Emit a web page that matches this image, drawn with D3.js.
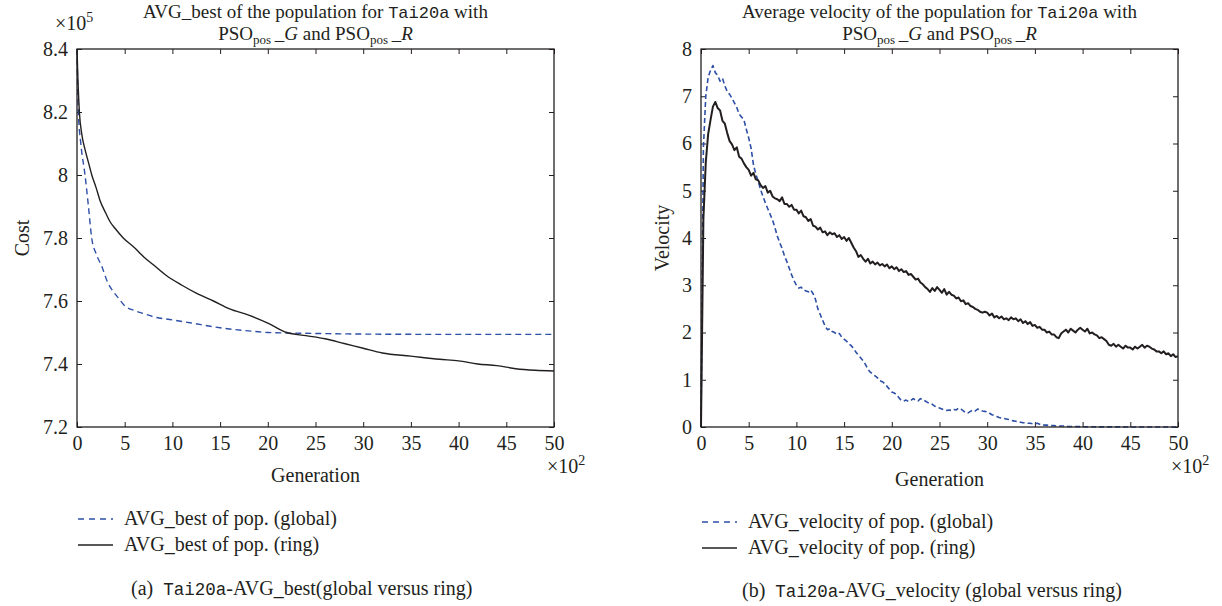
<!DOCTYPE html>
<html>
<head>
<meta charset="utf-8">
<script src="https://cdn.jsdelivr.net/npm/d3@7"></script>
<style>
  body { margin: 0; background: #fff; }
  svg text { font-family: "Liberation Serif", "Times New Roman", serif; fill: #231f20; }
  .mono { font-family: "Liberation Mono", "DejaVu Sans Mono", monospace; }
</style>
</head>
<body>
<svg id="fig" width="1222" height="606"></svg>
<script>
// ---- Generation ticks (in units of 10^2 generations) ----
const genTicks = [0, 5, 10, 15, 20, 25, 30, 35, 40, 45, 50];

// ---- Panel (a): AVG_best cost (x10^5) ----
const costTicks = [7.2, 7.4, 7.6, 7.8, 8.0, 8.2, 8.4];
const costGlobalGen = [0, 0.14, 0.4, 0.84, 1.2, 1.54, 2, 2.6, 3.2, 3.8, 4.33, 5, 6, 7, 8, 10, 12, 15, 18, 20, 25, 30, 40, 50];
const costGlobal    = [8.40, 8.20, 8.10, 8.00, 7.90, 7.80, 7.75, 7.71, 7.66, 7.63, 7.61, 7.585, 7.57, 7.56, 7.55, 7.54, 7.53, 7.515, 7.505, 7.50, 7.497, 7.495, 7.494, 7.494];
const costRingGen = [0, 0.1, 0.25, 0.5, 0.85, 1.2, 1.55, 2, 2.4, 3, 3.5, 4, 4.85, 6, 7, 8, 9.4, 11, 12.5, 14.3, 16, 18, 20, 22, 24, 26, 28, 30, 32, 35, 38, 40, 42, 44, 46, 48, 50];
const costRing    = [8.40, 8.30, 8.20, 8.13, 8.08, 8.04, 8.00, 7.96, 7.92, 7.88, 7.85, 7.83, 7.80, 7.77, 7.74, 7.715, 7.68, 7.65, 7.625, 7.60, 7.575, 7.555, 7.53, 7.50, 7.49, 7.48, 7.465, 7.45, 7.435, 7.425, 7.415, 7.41, 7.40, 7.395, 7.385, 7.38, 7.378];

// ---- Panel (b): average velocity, sampled every 0.25 x10^2 generations ----
const velTicks = [0, 1, 2, 3, 4, 5, 6, 7, 8];
const velStep = 0.25;
const velGlobal = [
  0, 5.9, 7.0, 7.4,
  7.55, 7.65, 7.5, 7.44,
  7.32, 7.38, 7.22, 7.1,
  7.04, 6.96, 6.86, 6.76,
  6.62, 6.56, 6.5, 6.3,
  6.12, 5.9, 5.55, 5.35,
  5.2, 5.02, 4.88, 4.74,
  4.62, 4.5, 4.38, 4.22,
  4.04, 3.9, 3.78, 3.62,
  3.5, 3.36, 3.22, 3.1,
  3.0, 2.94, 2.96, 2.9,
  2.88, 2.86, 2.9, 2.82,
  2.7, 2.5, 2.38, 2.26,
  2.14, 2.06, 2.08, 2.02,
  2.0, 1.96, 1.98, 1.9,
  1.86, 1.82, 1.76, 1.72,
  1.66, 1.58, 1.52, 1.46,
  1.4, 1.32, 1.22, 1.16,
  1.12, 1.08, 1.04, 0.98,
  0.96, 0.92, 0.86, 0.8,
  0.74, 0.72, 0.68, 0.62,
  0.56, 0.55, 0.57, 0.54,
  0.56, 0.6, 0.57, 0.55,
  0.6, 0.58, 0.55, 0.52,
  0.5, 0.48, 0.44, 0.42,
  0.4, 0.38, 0.36, 0.35,
  0.36, 0.35, 0.37, 0.36,
  0.4, 0.38, 0.34, 0.3,
  0.3, 0.33, 0.36, 0.34,
  0.38, 0.36, 0.34, 0.33,
  0.32, 0.29, 0.26, 0.24,
  0.22, 0.2, 0.19, 0.18,
  0.17, 0.16, 0.14, 0.13,
  0.12, 0.11, 0.1, 0.09,
  0.09, 0.08, 0.08, 0.07,
  0.07, 0.08, 0.06, 0.05,
  0.04, 0.04, 0.03, 0.03,
  0.03, 0.02, 0.02, 0.02,
  0.02, 0.015, 0.012, 0.01,
  0.01, 0.01, 0.008, 0.007,
  0.006, 0.005, 0.005, 0.004,
  0.004, 0.004, 0.003, 0.003,
  0.003, 0.003, 0.002, 0.002,
  0.002, 0.002, 0.002, 0.002,
  0.002, 0.002, 0.001, 0.001,
  0.001, 0.001, 0.001, 0.001,
  0.001, 0.001, 0.001, 0.001,
  0.001, 0.001, 0.001, 0.001,
  0.001, 0.001, 0.001, 0.001,
  0.001, 0.001, 0.001, 0.001,
  0.001
];
const velRing = [
  0, 4.4, 5.6, 6.2,
  6.5, 6.78, 6.88, 6.75,
  6.7, 6.48, 6.42, 6.22,
  6.05, 5.98, 5.86, 5.92,
  5.72, 5.68, 5.58, 5.5,
  5.44, 5.32, 5.38, 5.24,
  5.22, 5.12, 5.06, 5.1,
  4.96, 5.0, 4.88, 4.84,
  4.82, 4.78, 4.86, 4.72,
  4.72, 4.66, 4.7, 4.6,
  4.6, 4.52, 4.58, 4.46,
  4.44, 4.36, 4.4, 4.26,
  4.24, 4.18, 4.22, 4.12,
  4.14, 4.06, 4.12, 4.08,
  4.1, 4.02, 4.06, 3.98,
  4.02, 3.94, 4.0, 3.9,
  3.8, 3.72, 3.6, 3.64,
  3.56, 3.5, 3.56, 3.46,
  3.5, 3.44, 3.48, 3.42,
  3.45, 3.4, 3.44, 3.36,
  3.4, 3.34, 3.38, 3.3,
  3.34, 3.28, 3.3, 3.22,
  3.24, 3.18, 3.12, 3.14,
  3.06, 3.02, 2.96, 2.92,
  2.86, 2.94, 2.88, 2.96,
  2.9, 2.84, 2.92, 2.8,
  2.86, 2.8, 2.78, 2.72,
  2.74, 2.66, 2.68, 2.6,
  2.62, 2.56, 2.54, 2.5,
  2.48, 2.44, 2.42, 2.44,
  2.42, 2.36, 2.4, 2.32,
  2.35, 2.3, 2.34, 2.28,
  2.3, 2.26, 2.32, 2.28,
  2.3, 2.24, 2.28, 2.2,
  2.24, 2.18, 2.22, 2.14,
  2.16, 2.1, 2.12, 2.06,
  2.06, 2.0, 2.02, 1.96,
  1.96, 1.9, 1.88, 1.98,
  2.02, 2.06, 2.0, 2.08,
  2.04, 2.0, 2.06, 2.1,
  2.06, 2.02, 2.08, 1.98,
  2.0, 1.96, 1.94, 1.88,
  1.9, 1.86, 1.82, 1.74,
  1.72, 1.76, 1.7, 1.74,
  1.7, 1.66, 1.72, 1.68,
  1.68, 1.64, 1.7, 1.66,
  1.7, 1.74, 1.68, 1.72,
  1.7, 1.66, 1.64, 1.6,
  1.6, 1.56, 1.6, 1.54,
  1.56, 1.5, 1.54, 1.48,
  1.5
];

const BLUE = "#2d4fa6";
const INK = "#231f20";
const FS = 20;       // body text size
const FS_TITLE = 19; // panel titles
const FS_SMALL = 14; // sub/superscripts
const svg = d3.select("#fig");

// Builds one boxed MATLAB-style panel with inward ticks on all four sides.
function panel(cfg) {
  const x = d3.scaleLinear().domain([0, 50]).range([cfg.left, cfg.right]);
  const y = d3.scaleLinear().domain(cfg.yDomain).range([cfg.bottom, cfg.top]);
  const g = svg.append("g");

  const styleAxis = sel => {
    sel.select(".domain").remove();
    sel.selectAll("line").attr("stroke", INK).attr("stroke-width", 1);
    sel.selectAll("text").attr("font-family", '"Liberation Serif", "Times New Roman", serif')
       .attr("font-size", FS).attr("fill", INK);
  };

  g.append("g").attr("transform", `translate(0,${cfg.bottom})`)
    .call(d3.axisBottom(x).tickValues(genTicks).tickSizeInner(-5).tickSizeOuter(0).tickPadding(9).tickFormat(d3.format("d")))
    .call(styleAxis);
  g.append("g").attr("transform", `translate(0,${cfg.top})`)
    .call(d3.axisTop(x).tickValues(genTicks).tickSizeInner(-5).tickSizeOuter(0).tickFormat(""))
    .call(styleAxis);
  g.append("g").attr("transform", `translate(${cfg.left},0)`)
    .call(d3.axisLeft(y).tickValues(cfg.yTicks).tickSizeInner(-5).tickSizeOuter(0).tickPadding(9).tickFormat(cfg.yFormat))
    .call(styleAxis);
  g.append("g").attr("transform", `translate(${cfg.right},0)`)
    .call(d3.axisRight(y).tickValues(cfg.yTicks).tickSizeInner(-5).tickSizeOuter(0).tickFormat(""))
    .call(styleAxis);

  // series
  cfg.series.forEach(s => {
    g.append("path")
      .datum(s.points)
      .attr("fill", "none")
      .attr("stroke", s.color)
      .attr("stroke-width", s.width)
      .attr("stroke-dasharray", s.dash || null)
      .attr("stroke-linejoin", "round")
      .attr("d", d3.line().x(d => x(d[0])).y(d => y(d[1])).curve(s.curve || d3.curveLinear));
  });

  // frame
  g.append("rect")
    .attr("x", cfg.left).attr("y", cfg.top)
    .attr("width", cfg.right - cfg.left).attr("height", cfg.bottom - cfg.top)
    .attr("fill", "none").attr("stroke", INK).attr("stroke-width", 1.3);

  const cx = (cfg.left + cfg.right) / 2;

  // title, two lines
  const t1 = g.append("text").attr("x", cx).attr("y", 18).attr("text-anchor", "middle").attr("font-size", FS_TITLE);
  t1.append("tspan").text(cfg.titleStart);
  t1.append("tspan").attr("class", "mono").attr("font-size", 17).text("Tai20a");
  t1.append("tspan").text(" with");

  const t2 = g.append("text").attr("x", cx).attr("y", 40).attr("text-anchor", "middle").attr("font-size", FS_TITLE);
  const psoPart = (letter, lead) => {
    t2.append("tspan").text(lead + "PSO");
    t2.append("tspan").attr("font-size", 13).attr("dy", 4).text("pos");
    t2.append("tspan").attr("dy", -4).text("\u2009_");
    t2.append("tspan").attr("font-style", "italic").text(letter);
  };
  psoPart("G", "");
  psoPart("R", " and ");

  // y label
  g.append("text")
    .attr("transform", `translate(${cfg.yLabelX},${(cfg.top + cfg.bottom) / 2}) rotate(-90)`)
    .attr("text-anchor", "middle").attr("font-size", FS).text(cfg.yLabel);

  // x label and exponent
  g.append("text").attr("x", cx).attr("y", cfg.xLabelY).attr("text-anchor", "middle")
    .attr("font-size", FS).text("Generation");
  const ex = g.append("text").attr("x", cfg.right - 7).attr("y", cfg.bottom + 46).attr("font-size", FS);
  ex.append("tspan").text("\u00d710");
  ex.append("tspan").attr("font-size", FS_SMALL).attr("dy", -8).text("2");

  // legend
  cfg.series.forEach((s, i) => {
    const ly = cfg.legendY + i * 26;
    g.append("line")
      .attr("x1", cfg.left + 1).attr("x2", cfg.left + 36).attr("y1", ly).attr("y2", ly)
      .attr("stroke", s.color).attr("stroke-width", 1.4)
      .attr("stroke-dasharray", s.dash ? "6,5" : null);
    g.append("text").attr("x", cfg.left + 47).attr("y", ly + 6).attr("font-size", FS).text(s.label);
  });

  // caption
  const cap = g.append("text").attr("x", cfg.captionX).attr("y", cfg.captionY).attr("font-size", FS);
  cap.append("tspan").text(cfg.captionTag + "\u2002");
  cap.append("tspan").attr("class", "mono").attr("font-size", 17.5).text("Tai20a");
  cap.append("tspan").text(cfg.captionRest);

  return { g, x, y };
}

// Panel (a)
const pa = panel({
  left: 77, right: 554, top: 49, bottom: 427,
  yDomain: [7.2, 8.4], yTicks: costTicks,
  yFormat: d => String(+d.toFixed(1)),
  titleStart: "AVG_best of the population for ",
  yLabel: "Cost", yLabelX: 29, xLabelY: 482,
  legendY: 519, captionX: 131, captionY: 595,
  captionTag: "(a)", captionRest: "-AVG_best(global versus ring)",
  series: [
    { points: costGlobalGen.map((g, i) => [g, costGlobal[i]]), color: BLUE, width: 1.4, dash: "6,4",
      curve: d3.curveMonotoneX, label: "AVG_best of pop. (global)" },
    { points: costRingGen.map((g, i) => [g, costRing[i]]), color: INK, width: 1.4,
      curve: d3.curveMonotoneX, label: "AVG_best of pop. (ring)" }
  ]
});
// multiplier on the cost axis
const e5 = pa.g.append("text").attr("x", 55).attr("y", 30).attr("font-size", FS);
e5.append("tspan").text("\u00d710");
e5.append("tspan").attr("font-size", FS_SMALL).attr("dy", -8).text("5");

// Panel (b)
panel({
  left: 701, right: 1178, top: 49, bottom: 427,
  yDomain: [0, 8], yTicks: velTicks,
  yFormat: d3.format("d"),
  titleStart: "Average velocity of the population for ",
  yLabel: "Velocity", yLabelX: 669, xLabelY: 486,
  legendY: 522, captionX: 742, captionY: 597,
  captionTag: "(b)", captionRest: "-AVG_velocity (global versus ring)",
  series: [
    { points: velGlobal.map((v, i) => [i * velStep, v]), color: BLUE, width: 1.6, dash: "5,3",
      label: "AVG_velocity of pop. (global)" },
    { points: velRing.map((v, i) => [i * velStep, v]), color: INK, width: 2,
      label: "AVG_velocity of pop. (ring)" }
  ]
});
</script>
</body>
</html>
